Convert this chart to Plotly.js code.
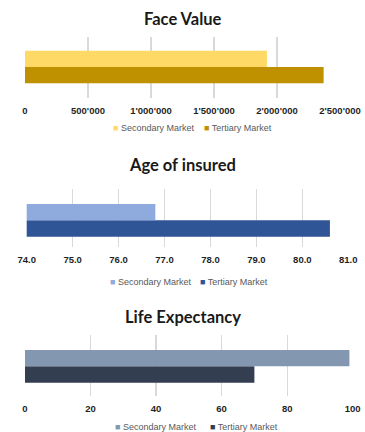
<!DOCTYPE html>
<html><head><meta charset="utf-8">
<script src="https://cdn.plot.ly/plotly-3.0.1.min.js"></script>
<style>html,body{margin:0;padding:0;background:#fff}#chart{width:365px;height:432px}</style>
</head><body><div id="chart"></div>
<script>
const category = ['All'];
const seriesNames = ['Secondary Market', 'Tertiary Market'];
const chartTitles = ['Face Value', 'Age of insured', 'Life Expectancy'];
const faceSecondary = [1920000];
const faceTertiary = [2370000];
const ageSecondary = [76.8];
const ageTertiary = [80.6];
const lifeSecondary = [99];
const lifeTertiary = [70];
const faceTicks = [0, 500000, 1000000, 1500000, 2000000, 2500000];
const faceTickLabels = ["0", "500'000", "1'000'000", "1'500'000", "2'000'000", "2'500'000"];
const ageTicks = [74, 75, 76, 77, 78, 79, 80, 81];
const ageTickLabels = ['74.0', '75.0', '76.0', '77.0', '78.0', '79.0', '80.0', '81.0'];
const lifeTicks = [0, 20, 40, 60, 80, 100];

const H = 432, W = 365;
const py = p => 1 - p / H;
const px = p => p / W;

function pair(sec, ter, cs, ct, xa, ya) {
  return [
    {type:'bar', orientation:'h', y:category, x:ter, name:seriesNames[1], marker:{color:ct}, xaxis:xa, yaxis:ya, showlegend:false},
    {type:'bar', orientation:'h', y:category, x:sec, name:seriesNames[0], marker:{color:cs}, xaxis:xa, yaxis:ya, showlegend:false}
  ];
}
const colors = [['#FFD966', '#BF9000'], ['#8FAADC', '#2F5597'], ['#8497B0', '#333F50']];
const data = [
  ...pair(faceSecondary, faceTertiary, colors[0][0], colors[0][1], 'x', 'y'),
  ...pair(ageSecondary, ageTertiary, colors[1][0], colors[1][1], 'x2', 'y2'),
  ...pair(lifeSecondary, lifeTertiary, colors[2][0], colors[2][1], 'x3', 'y3')
];

const tickFont = {family:'Liberation Sans', size:9.5, color:'#1f1f1f', weight:'bold'};
function xax(domain, range, tv, tt, anchor) {
  return {domain, range, tickvals:tv, ticktext:tt, showgrid:true, gridcolor:'#D9D9D9', gridwidth:1.3,
    zeroline:false, showline:false, ticks:'', tickfont:tickFont, anchor, fixedrange:true, ticklabelstandoff:5};
}
function yax(top, bottom, c, groupPx, anchor) {
  const unit = groupPx / 0.5;
  const a = -(bottom - c) / unit;
  const b = a + (bottom - top) / unit;
  return {domain:[py(bottom), py(top)], range:[a, b], showticklabels:false, showgrid:false, zeroline:false,
    showline:false, ticks:'', anchor, fixedrange:true};
}
const legFont = {family:'Liberation Sans', size:9, color:'#595959'};
function legItem(name, color, xLeft, y) {
  return {text:'<span style="color:' + color + '">■</span> ' + name, x:px(xLeft - 1), xref:'paper', y:py(y), yref:'paper',
    xanchor:'left', yanchor:'middle', showarrow:false, font:legFont, borderpad:0};
}
const titleFont = {family:'Lato', size:16.5, color:'#1a1a1a', weight:'bold'};
function ttl(text, y) {
  return {text, x:0.5, xref:'paper', y:py(y), yref:'paper', xanchor:'center', yanchor:'middle', showarrow:false, font:titleFont};
}

const layout = {
  width:W, height:H, margin:{l:0, r:0, t:0, b:0}, paper_bgcolor:'#fff', plot_bgcolor:'rgba(0,0,0,0)',
  barmode:'group', bargap:0.5, bargroupgap:0, showlegend:false,
  xaxis: xax([px(25), px(340)], [0, 2500000], faceTicks, faceTickLabels, 'y'),
  yaxis: yax(37, 98, 67, 32.6, 'x'),
  xaxis2: xax([px(26.7), px(348.3)], [74, 81], ageTicks, ageTickLabels, 'y2'),
  yaxis2: yax(189, 247, 220.3, 32.7, 'x2'),
  xaxis3: xax([px(25), px(352.7)], [0, 100], lifeTicks, lifeTicks.map(String), 'y3'),
  yaxis3: yax(335, 396, 366.3, 32.7, 'x3'),
  annotations: [
    ttl(chartTitles[0], 19), ttl(chartTitles[1], 165), ttl(chartTitles[2], 317),
    legItem(seriesNames[0], colors[0][0], 113, 128), legItem(seriesNames[1], colors[0][1], 204, 128),
    legItem(seriesNames[0], colors[1][0], 110, 282), legItem(seriesNames[1], colors[1][1], 200, 282),
    legItem(seriesNames[0], colors[2][0], 115, 427), legItem(seriesNames[1], colors[2][1], 210, 427)
  ]
};
Plotly.newPlot('chart', data, layout, {displayModeBar:false, staticPlot:true});
</script></body></html>
